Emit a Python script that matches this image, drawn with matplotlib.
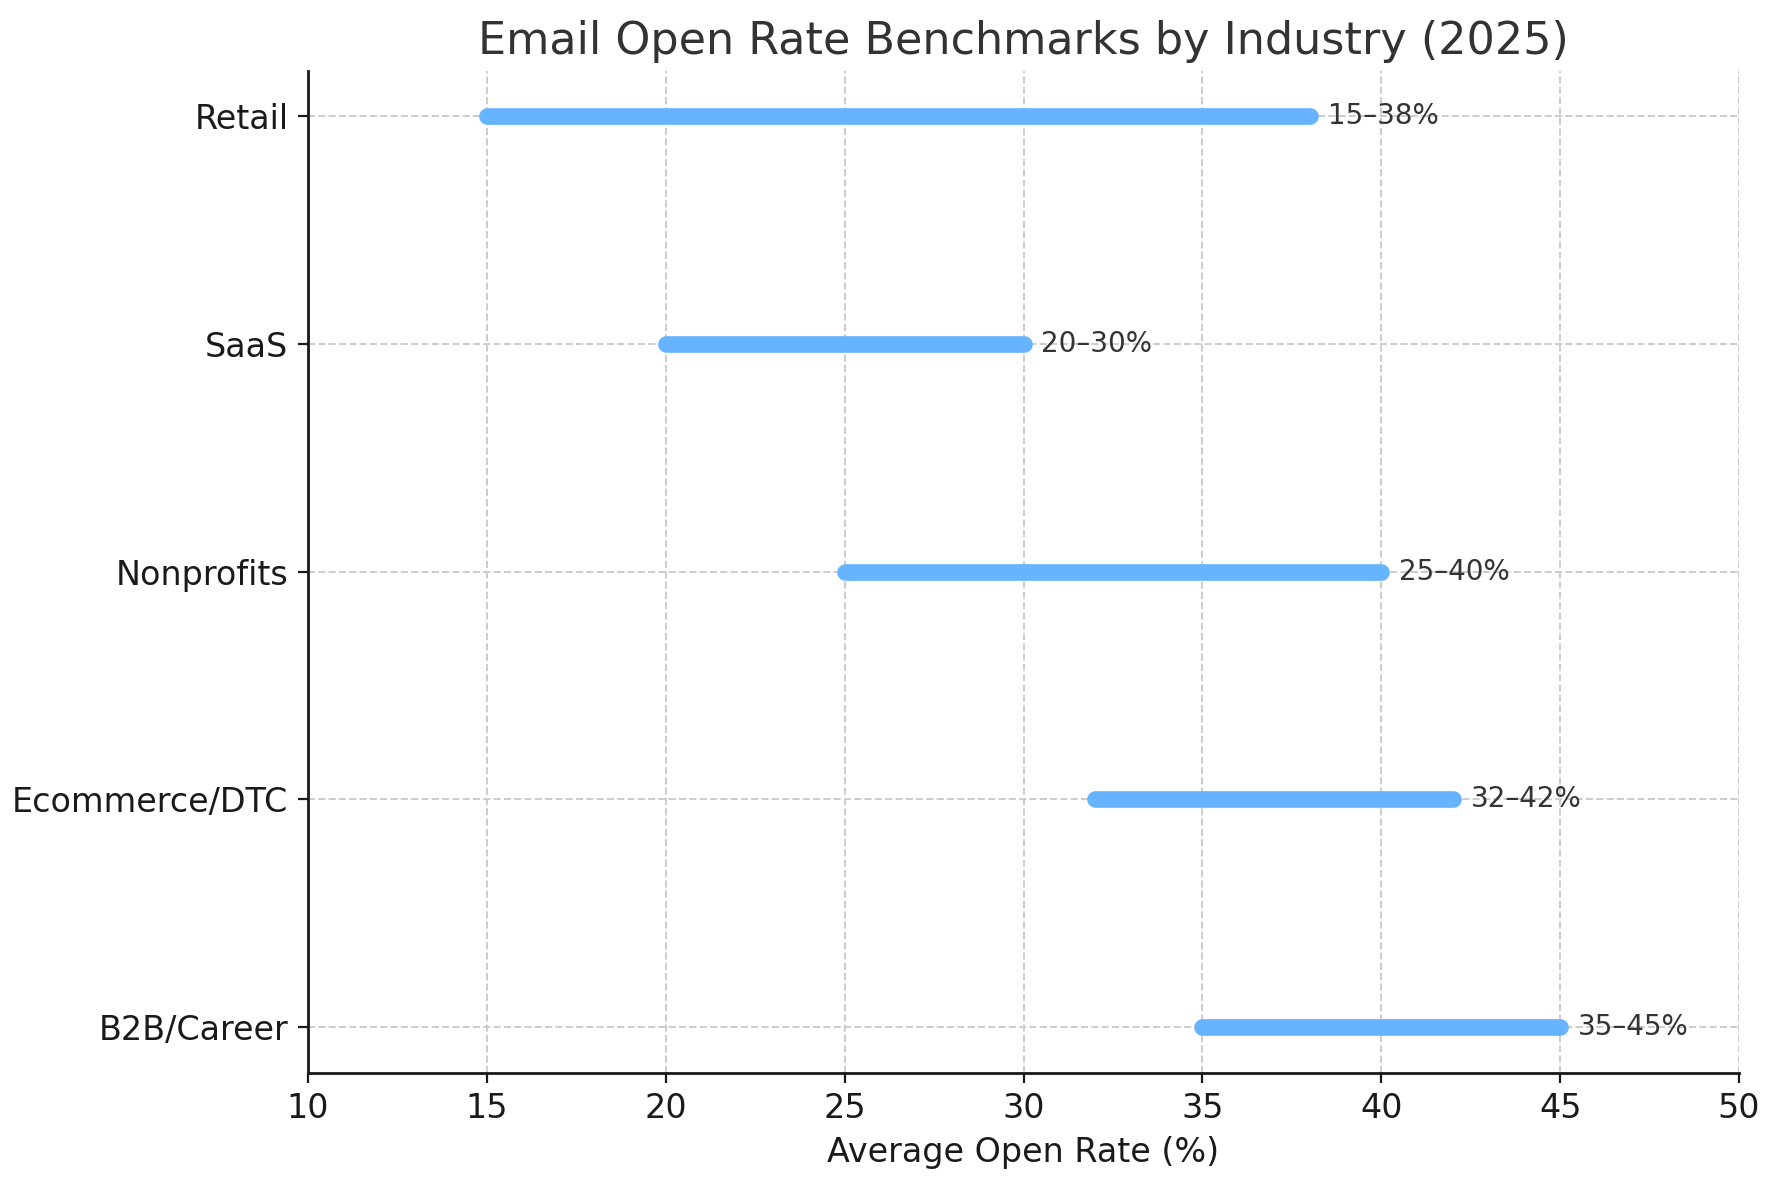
"""
Email open rate ranges by industry
"""
import matplotlib
matplotlib.use('Agg')
import matplotlib.pyplot as plt

industries = ['B2B/Career', 'Ecommerce/DTC', 'Nonprofits', 'SaaS', 'Retail']
low_rates = [35, 32, 25, 20, 15]
high_rates = [45, 42, 40, 30, 38]

BAR_COLOR = '#66b3ff'
TEXT_COLOR = '#333333'

fig, ax = plt.subplots(figsize=(8.9, 5.9), dpi=200)
fig.subplots_adjust(left=0.173, right=0.977, top=0.94, bottom=0.091)

for i, (lo, hi) in enumerate(zip(low_rates, high_rates)):
    ax.plot([lo, hi], [i, i], color=BAR_COLOR, linewidth=6,
            solid_capstyle='round', zorder=3)
    ax.text(hi + 0.5, i, f'{lo}–{hi}%', va='center', ha='left',
            fontsize=10, color=TEXT_COLOR)

ax.set_yticks(range(len(industries)))
ax.set_yticklabels(industries)
ax.set_xlim(10, 50)
ax.set_xticks(range(10, 51, 5))
ax.tick_params(axis='both', labelsize=12, colors='#1a1a1a')

ax.set_xlabel('Average Open Rate (%)', fontsize=12, color='#1a1a1a')
ax.set_title('Email Open Rate Benchmarks by Industry (2025)',
             fontsize=16, color=TEXT_COLOR)

ax.grid(True, linestyle='--', color='#cccccc', linewidth=0.7, zorder=0)
ax.set_axisbelow(True)
ax.spines['top'].set_visible(False)
ax.spines['right'].set_visible(False)
for side in ('left', 'bottom'):
    ax.spines[side].set_color('#1a1a1a')
    ax.spines[side].set_linewidth(1.0)

fig.savefig('out.png', dpi=200)
